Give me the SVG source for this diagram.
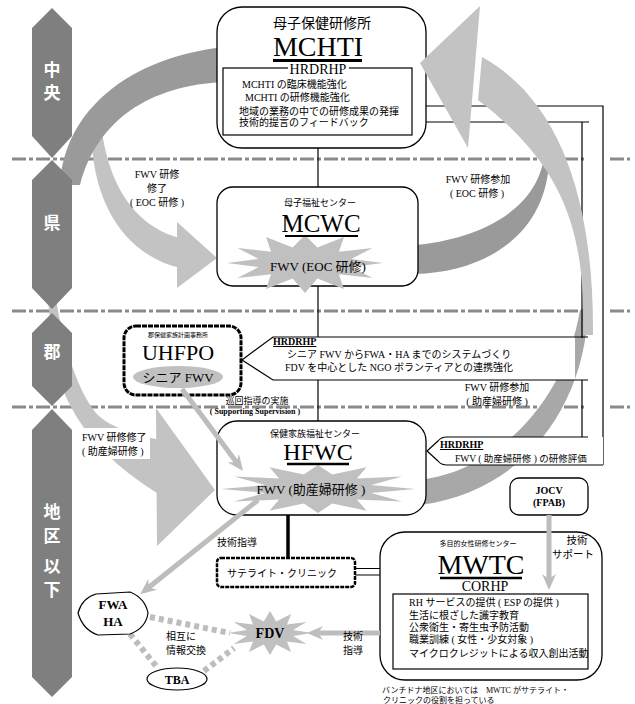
<svg xmlns="http://www.w3.org/2000/svg" width="635" height="704" viewBox="0 0 635 704">
<defs>
<style>
.cjk{font-family:"Noto Sans CJK JP",sans-serif}
.mix{font-family:"Liberation Serif","Noto Sans CJK JP",serif}
.ser{font-family:"Liberation Serif",serif}
.box{fill:#fff;stroke:#000;stroke-width:1.3}
.bar{fill:#7f7f7f}
.lvl{font-family:"Noto Sans CJK JP",sans-serif;font-weight:bold;font-size:17px;fill:#fff;text-anchor:middle}
.dash{stroke:#8a8a8a;stroke-width:3;stroke-dasharray:14 3 4 3;fill:none}
.light{fill:#c3c3c3}
.dark{fill:#9a9a9a}
.mid{fill:#a8a8a8}
.burst{fill:#c0c0c0}
.ln{stroke:#000;stroke-width:1.2;fill:none}
.garrow{stroke:#bdbdbd;stroke-width:5;fill:none;marker-end:url(#ah)}
.dot{stroke:#bdbdbd;stroke-width:6;stroke-dasharray:5 4;fill:none}
.c{text-anchor:middle}
.b{font-weight:bold}
</style>
<marker id="ah" viewBox="0 0 16 14" refX="6" refY="7" markerWidth="16" markerHeight="14" markerUnits="userSpaceOnUse" orient="auto"><path d="M0,0 L16,7 L0,14 L5,7 Z" fill="#bdbdbd"/></marker>
</defs>
<rect width="635" height="704" fill="#fff"/>

<g id="levels">
<path class="dash" d="M12 159 H584 M610 159 H630"/>
<path class="dash" d="M12 311 H584 M610 311 H630"/>
<path class="dash" d="M12 407 H584 M610 407 H630"/>
</g>

<g id="flows">
<path class="light" d="M92 112 C86 200 125 255 180 268 L180 238 C140 228 105 190 100 112 Z"/>
<path class="light" d="M177 222 L217 258 L177 288 Z"/>
<path class="dark" d="M60 185 C64 110 130 57 225 47 L225 82 C150 85 97 120 80 185 Z"/>
<path class="dark" d="M415 245 C470 240 540 215 545 150 L549 150 C552 230 490 272 415 274 Z"/>
<path class="mid" d="M420 480 C500 470 565 400 580 310 L588 310 C585 400 530 490 420 505 Z"/>
<path class="light" d="M48 300 Q55 380 70 405 Q95 455 160 495 L160 440 Q110 430 95 412 Q70 380 56 300 Z"/>
<path class="light" d="M156 408 L215 490 L157 546 Z"/>
</g>

<g id="bars">
<polygon class="bar" points="52,8 72,28 72,136 52,158 32,136 32,28"/>
<polygon class="bar" points="52,160 72,180 72,288 52,309 32,288 32,180"/>
<polygon class="bar" points="52,313 72,333 72,386 52,406 32,386 32,333"/>
<polygon class="bar" points="52,409 72,430 72,677 52,697 32,677 32,430"/>
<text class="lvl" x="52" y="76">中</text>
<text class="lvl" x="52" y="99">央</text>
<text class="lvl" x="52" y="229">県</text>
<text class="lvl" x="52" y="358">郡</text>
<text class="lvl" x="52" y="518">地</text>
<text class="lvl" x="52" y="542">区</text>
<text class="lvl" x="52" y="572">以</text>
<text class="lvl" x="52" y="596">下</text>
</g>

<g id="connectors">
<path class="ln" d="M318 148 V421"/>
<path class="ln" d="M412 106 H603 V465"/>
<path class="ln" d="M412 122 H589"/>
<path class="ln" d="M582 122 V338 M582 380 V437"/>
<path d="M288 515 V558" stroke="#000" stroke-width="3.5"/>
<path class="ln" d="M355 568.5 H380 M355 575 H380"/>
<path class="dot" d="M150 617 L230 633"/>
<path class="dot" d="M130 634 L156 666"/>
<path class="dot" d="M204 671 L234 648"/>
</g>

<g id="mchti">
<rect class="box" x="217" y="7" width="209" height="141" rx="25"/>
<text class="cjk c" x="322" y="28" font-size="14">母子保健研修所</text>
<text class="ser c" x="318" y="56" font-size="28">MCHTI</text>
<line x1="273" y1="60.5" x2="362" y2="60.5" stroke="#000" stroke-width="3"/>
<rect class="ln" x="223" y="68" width="189" height="67"/>
<rect x="288" y="62" width="61" height="14" fill="#fff"/>
<text class="ser c" x="318" y="74" font-size="14">HRDRHP</text>
<text class="mix" x="242" y="88" font-size="10">MCHTI の臨床機能強化</text>
<text class="mix" x="245" y="101" font-size="10">MCHTI の研修機能強化</text>
<text class="mix" x="239" y="115" font-size="10">地域の業務の中での研修成果の発揮</text>
<text class="mix" x="239" y="126" font-size="10">技術的提言のフィードバック</text>
</g>

<g id="mcwc">
<rect class="box" x="217" y="187" width="201" height="99" rx="16"/>
<polygon class="burst" points="383,263 351.4,267.1 372.5,278 338.9,274.3 344,289 317.4,278.5 305,293 292.6,278.5 266,289 271.1,274.3 237.5,278 258.6,267.1 227,263 258.6,258.9 237.5,248 271.1,251.7 266,237 292.6,247.5 305,235 317.4,247.5 344,237 338.9,251.7 372.5,248 351.4,258.9"/>
<text class="cjk c" x="320" y="206" font-size="9">母子福祉センター</text>
<text class="ser c" x="321" y="232" font-size="25">MCWC</text>
<line x1="285" y1="236" x2="358" y2="236" stroke="#000" stroke-width="2"/>
<text class="mix c" x="318" y="271" font-size="13">FWV (EOC 研修)</text>
</g>

<g id="uhfpo">
<rect x="124" y="326" width="117" height="69" rx="12" fill="#fff" stroke="#000" stroke-width="3" stroke-dasharray="5 1"/>
<text class="cjk c" x="178" y="337" font-size="6">郡保健家族計画事務所</text>
<text class="ser c" x="178" y="360" font-size="22">UHFPO</text>
<ellipse cx="178" cy="377" rx="45" ry="11" fill="#c0c0c0"/>
<text class="mix c" x="178" y="382" font-size="13">シニア FWV</text>
</g>

<g id="callout-upper">
<path d="M242 360 L273 337 H575 V380 H273 Z" fill="#fff"/>
<path class="ln" d="M588 337 H273 L242 360 L273 380 H588"/>
<text class="ser b" x="273" y="345" font-size="10" text-decoration="underline">HRDRHP</text>
<text class="mix" x="287" y="358" font-size="10">シニア FWV からFWA・HA までのシステムづくり</text>
<text class="mix" x="285" y="371" font-size="10">FDV を中心とした NGO ボランティアとの連携強化</text>
</g>

<g id="hfwc">
<rect class="box" x="217" y="421" width="209" height="94" rx="20"/>
<polygon class="burst" points="415,489 371.1,492.9 402,501.5 356.9,499.6 366.5,510.7 332.2,503.5 318,513 303.8,503.5 269.5,510.7 279.1,499.6 234,501.5 264.9,492.9 221,489 264.9,485.1 234,476.5 279.1,478.4 269.5,467.3 303.8,474.5 318,465 332.2,474.5 366.5,467.3 356.9,478.4 402,476.5 371.1,485.1"/>
<text class="cjk c" x="315" y="437" font-size="9">保健家族福祉センター</text>
<text class="ser c" x="318" y="460" font-size="24">HFWC</text>
<line x1="287" y1="464" x2="349" y2="464" stroke="#000" stroke-width="2.5"/>
<text class="mix c" x="311" y="494" font-size="13">FWV (助産婦研修 )</text>
</g>

<g id="callout-lower">
<path d="M427 451 L438 441 Q441 437 447 437 H603 V465 H447 Q441 465 438 461 Z" fill="#fff"/>
<path class="ln" d="M588 437 H447 Q441 437 438 441 L427 451 L438 461 Q441 465 447 465 H603"/>
<text class="ser b" x="440" y="448" font-size="10" text-decoration="underline">HRDRHP</text>
<text class="mix" x="455" y="462" font-size="9.5">FWV ( 助産婦研修 ) の研修評価</text>
</g>

<g id="satellite">
<rect x="217" y="558" width="138" height="29" rx="4" fill="#fff" stroke="#000" stroke-width="2.5" stroke-dasharray="4 1"/>
<text class="cjk" x="227" y="577" font-size="10">サテライト・クリニック</text>
</g>

<g id="jocv">
<rect class="box" x="510" y="478" width="78" height="37" rx="9"/>
<text class="ser b c" x="549" y="494" font-size="10">JOCV</text>
<text class="ser b c" x="549" y="506" font-size="10">(FPAB)</text>
</g>

<g id="mwtc">
<rect class="box" x="380" y="532" width="222" height="148" rx="25"/>
<text class="cjk c" x="478" y="546" font-size="7">多目的女性研修センター</text>
<text class="ser c" x="481" y="574" font-size="28">MWTC</text>
<line x1="440" y1="578" x2="522" y2="578" stroke="#000" stroke-width="2.5"/>
<text class="ser c" x="485" y="591" font-size="14">CORHP</text>
<rect class="ln" x="393" y="594" width="195" height="75"/>
<text class="mix" x="409" y="606" font-size="10">RH サービスの提供 ( ESP の提供 )</text>
<text class="mix" x="409" y="619" font-size="10">生活に根ざした識字教育</text>
<text class="mix" x="409" y="631" font-size="10">公衆衛生・寄生虫予防活動</text>
<text class="mix" x="409" y="643" font-size="10">職業訓練 ( 女性・少女対象 )</text>
<text class="mix" x="409" y="657" font-size="10">マイクロクレジットによる収入創出活動</text>
</g>

<g id="fwa-ha">
<path d="M78 613 Q82 598 96 594 L130 592 Q145 598 148 613 Q146 628 130 634 L98 635 Q83 630 78 613 Z" fill="#fff" stroke="#000" stroke-width="1.2"/>
<text class="ser b c" x="113" y="609" font-size="13">FWA</text>
<text class="ser b c" x="113" y="626" font-size="13">HA</text>
</g>

<g id="tba">
<ellipse cx="177" cy="679" rx="30" ry="11" fill="#fff" stroke="#000" stroke-width="1.2"/>
<text class="ser b c" x="177" y="684" font-size="12">TBA</text>
</g>

<g id="fdv">
<polygon class="burst" points="312,633 293.2,636.1 306.4,644 287,641.5 291,652 276.2,644.6 270,655 263.8,644.6 249,652 253,641.5 233.6,644 246.8,636.1 228,633 246.8,629.9 233.6,622 253,624.5 249,614 263.8,621.4 270,611 276.2,621.4 291,614 287,624.5 306.4,622 293.2,629.9"/>
<text class="ser b c" x="270" y="638" font-size="14">FDV</text>
</g>

<g id="flows-top">
<path class="light" d="M583 335 C585 240 570 170 478 100 L482 57 C560 100 594 200 593 335 Z"/>
<path class="light" d="M420 63 L480 6 L468 148 Z"/>
<path class="garrow" d="M182 389 L237 463"/>
<path class="garrow" d="M258 500 L148 588"/>
<path class="garrow" d="M549 515 V580"/>
<path class="garrow" d="M380 633 H317"/>
</g>

<g id="labels">
<text class="mix c" x="157" y="178" font-size="10">FWV 研修</text>
<text class="mix c" x="157" y="192" font-size="10">修了</text>
<text class="mix c" x="157" y="206" font-size="10">( EOC 研修 )</text>
<text class="mix c" x="478" y="183" font-size="10">FWV 研修参加</text>
<text class="mix c" x="477" y="197" font-size="10">( EOC 研修 )</text>
<text class="mix c" x="497" y="391" font-size="10">FWV 研修参加</text>
<text class="mix c" x="497" y="405" font-size="10">( 助産婦研修 )</text>
<rect x="80" y="428" width="70" height="31" fill="#fff"/>
<text class="mix" x="82" y="441" font-size="10">FWV 研修修了</text>
<text class="mix" x="82" y="455" font-size="10">( 助産婦研修 )</text>
<text class="cjk c" x="257" y="404" font-size="9">巡回指導の実施</text>
<text class="ser b c" x="255" y="414" font-size="8">( Supporting Supervision )</text>
<text class="cjk" x="217" y="546" font-size="10">技術指導</text>
<text class="cjk" x="166" y="640" font-size="10">相互に</text>
<text class="cjk" x="166" y="654" font-size="10">情報交換</text>
<text class="cjk c" x="353" y="640" font-size="10">技術</text>
<text class="cjk c" x="353" y="654" font-size="10">指導</text>
<text class="cjk c" x="577" y="544" font-size="10.5">技術</text>
<text class="cjk c" x="573" y="558" font-size="10.5">サポート</text>
<text class="mix" x="382" y="693" font-size="8">バンチドナ地区においては　MWTC がサテライト・</text>
<text class="cjk" x="383" y="703" font-size="8">クリニックの役割を担っている</text>
</g>
</svg>
